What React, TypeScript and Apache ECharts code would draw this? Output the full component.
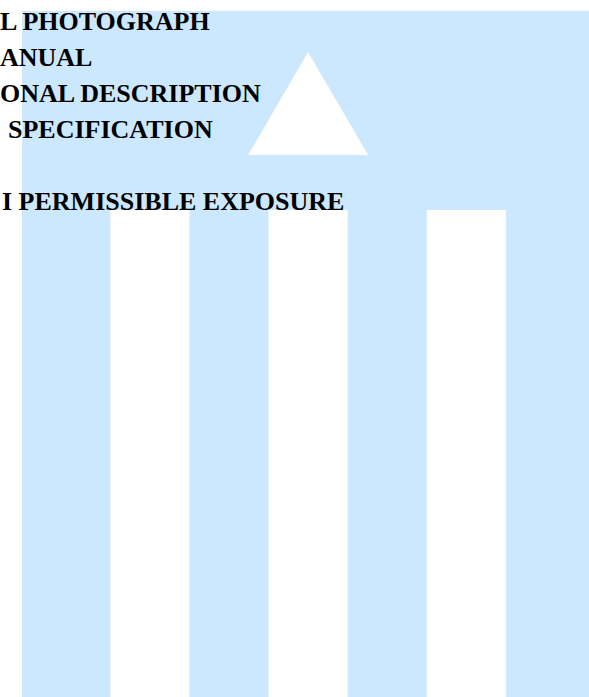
import React, { useEffect, useRef } from "react";
import * as echarts from "echarts";

const categories = ["A", "B", "C"];
const barValues = [71, 71, 71];
const markerValues = [null, 86.5, null];
const labelTexts = [
  "L PHOTOGRAPH",
  "ANUAL",
  "ONAL DESCRIPTION",
  "SPECIFICATION",
  "I PERMISSIBLE EXPOSURE",
];
const labelX = [0, 0, 0, 8, 2];
const labelY = [21, 57, 93, 129, 201];

export default function App() {
  const ref = useRef<HTMLDivElement>(null);
  useEffect(() => {
    if (!ref.current) return;
    const chart = echarts.init(ref.current, undefined, { renderer: "svg" });
    const font = 'bold 26px "Liberation Serif", "Times New Roman", serif';
    chart.setOption({
      animation: false,
      backgroundColor: "#ffffff",
      grid: { left: 70.8, width: 474.6, top: 11, bottom: 0, containLabel: false },
      xAxis: {
        type: "category",
        data: categories,
        show: false,
        boundaryGap: true,
      },
      yAxis: { type: "value", min: 0, max: 100, show: false },
      graphic: [
        {
          type: "rect",
          z: -10,
          silent: true,
          shape: { x: 22, y: 11, width: 567, height: 686 },
          style: { fill: "#cce8ff" },
        },
        ...labelTexts.map((t, i) => ({
          type: "text",
          z: 100,
          silent: true,
          x: labelX[i],
          y: labelY[i],
          style: {
            text: t,
            font,
            fill: "#000000",
            align: "left",
            verticalAlign: "middle",
          },
        })),
      ],
      series: [
        {
          type: "bar",
          data: barValues,
          barWidth: "50%",
          itemStyle: { color: "#ffffff", opacity: 1 },
          silent: true,
        },
        {
          type: "scatter",
          data: markerValues,
          symbol: "triangle",
          symbolSize: [120, 103],
          itemStyle: { color: "#ffffff", opacity: 1 },
          silent: true,
        },
      ],
    });
    return () => chart.dispose();
  }, []);
  return (
    <div
      ref={ref}
      style={{ position: "absolute", left: 0, top: 0, width: 589, height: 697 }}
    />
  );
}
